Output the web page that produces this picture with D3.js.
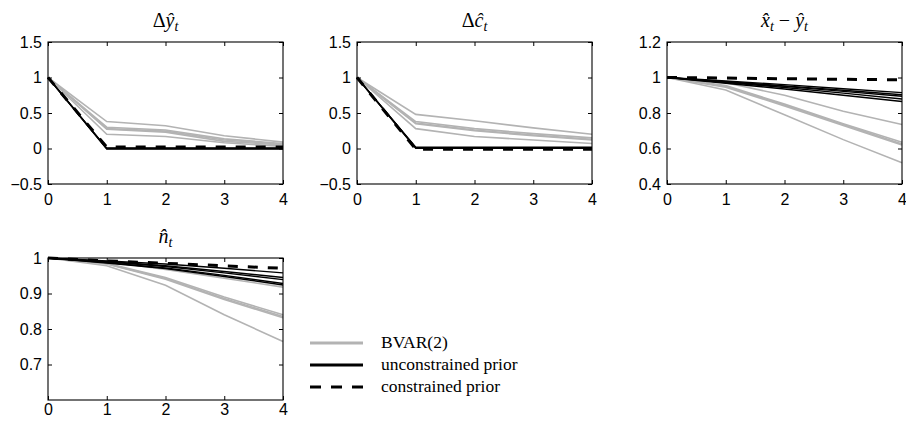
<!DOCTYPE html>
<html lang="en">
<head>
    <meta charset="utf-8">
    <script src="https://cdn.jsdelivr.net/npm/d3@7/dist/d3.min.js"></script>
    <style type="text/css">
        body { margin: 0; background: #fff; }
        .tick text { font-family: "Liberation Sans", Arial, sans-serif; font-size: 16px; fill: #000; }
        .title { font-family: "Liberation Serif", serif; font-size: 20px; }
        .legend text { font-family: "Liberation Serif", serif; font-size: 17.5px; }
    </style>
</head>
<body>
<script>
    // horizon (x axis)
    var horizon = [0, 1, 2, 3, 4];
    var xTicks = [0, 1, 2, 3, 4];

    // delta y-hat
    var bvarDy = [
        [1, 0.38, 0.32, 0.18, 0.09],
        [1, 0.30, 0.26, 0.135, 0.07],
        [1, 0.28, 0.245, 0.12, 0.06],
        [1, 0.27, 0.23, 0.10, 0.05],
        [1, 0.20, 0.17, 0.08, 0.03]
    ];
    var uncDy = [
        [1, 0, 0, 0, 0],
        [1, 0.006, 0.006, 0.006, 0.006],
        [1, -0.008, -0.008, -0.008, -0.008]
    ];
    var conDy = [1, 0.02, 0.02, 0.02, 0.02];

    // delta c-hat
    var bvarDc = [
        [1, 0.48, 0.39, 0.29, 0.20],
        [1, 0.38, 0.28, 0.21, 0.15],
        [1, 0.36, 0.26, 0.19, 0.13],
        [1, 0.35, 0.25, 0.18, 0.12],
        [1, 0.28, 0.17, 0.12, 0.07]
    ];
    var uncDc = [
        [1, 0.01, 0.01, 0.01, 0.01],
        [1, 0.018, 0.018, 0.018, 0.018],
        [1, 0.003, 0.003, 0.003, 0.003]
    ];
    var conDc = [1, -0.01, -0.01, -0.01, -0.01];

    // x-hat minus y-hat
    var bvarXy = [
        [1, 0.97, 0.90, 0.81, 0.735],
        [1, 0.955, 0.85, 0.74, 0.635],
        [1, 0.95, 0.845, 0.735, 0.625],
        [1, 0.945, 0.84, 0.73, 0.62],
        [1, 0.93, 0.79, 0.65, 0.52]
    ];
    var uncXy = [
        [1, 0.98, 0.96, 0.937, 0.915],
        [1, 0.977, 0.953, 0.928, 0.903],
        [1, 0.975, 0.95, 0.922, 0.894],
        [1, 0.972, 0.944, 0.912, 0.879],
        [1, 0.968, 0.935, 0.90, 0.865]
    ];
    var conXy = [1, 0.997, 0.993, 0.99, 0.987];

    // n-hat
    var bvarN = [
        [1, 0.99, 0.968, 0.943, 0.918],
        [1, 0.985, 0.945, 0.89, 0.84],
        [1, 0.984, 0.942, 0.886, 0.835],
        [1, 0.983, 0.94, 0.883, 0.832],
        [1, 0.978, 0.923, 0.84, 0.765]
    ];
    var uncN = [
        [1, 0.992, 0.983, 0.971, 0.958],
        [1, 0.99, 0.978, 0.962, 0.945],
        [1, 0.989, 0.976, 0.958, 0.939],
        [1, 0.987, 0.972, 0.951, 0.928],
        [1, 0.986, 0.97, 0.948, 0.924]
    ];
    var conN = [1, 0.992, 0.985, 0.978, 0.971];

    var legendLabels = ['BVAR(2)', 'unconstrained prior', 'constrained prior'];

    var gray = '#b3b3b3';

    var panels = [
        {left: 48, top: 42, xPad: 10, yDomain: [-0.5, 1.5], yTicks: [-0.5, 0, 0.5, 1, 1.5],
         title: [['Δ', 'n'], ['ŷ', 'i'], ['t', 's']], bvar: bvarDy, unc: uncDy, con: conDy},
        {left: 357, top: 42, xPad: 10, yDomain: [-0.5, 1.5], yTicks: [-0.5, 0, 0.5, 1, 1.5],
         title: [['Δ', 'n'], ['ĉ', 'i'], ['t', 's']], bvar: bvarDc, unc: uncDc, con: conDc},
        {left: 667, top: 42, xPad: 10, yDomain: [0.4, 1.2], yTicks: [0.4, 0.6, 0.8, 1, 1.2],
         title: [['x\u0302', 'i'], ['t', 's'], [' − ', 'n'], ['ŷ', 'i'], ['t', 's']], bvar: bvarXy, unc: uncXy, con: conXy},
        {left: 48, top: 258, xPad: 4, yDomain: [0.6, 1], yTicks: [0.7, 0.8, 0.9, 1],
         title: [['n\u0302', 'i'], ['t', 's']], bvar: bvarN, unc: uncN, con: conN}
    ];

    var pw = 235, ph = 142;

    var svg = d3.select('body')
            .append('svg')
            .attr('width', 906)
            .attr('height', 421);

    var fmt = d3.format('~g');

    panels.forEach(function (p) {
        var g = svg.append('g').attr('transform', 'translate(' + p.left + ',' + p.top + ')');

        var x = d3.scaleLinear().domain([0, 4]).range([0, pw]);
        var y = d3.scaleLinear().domain(p.yDomain).range([ph, 0]);

        var line = d3.line()
                .x(function (d, i) { return x(horizon[i]); })
                .y(function (d) { return y(d); });

        g.selectAll('path.bvar')
                .data(p.bvar)
                .enter()
                .append('path')
                .attr('class', 'bvar')
                .attr('d', line)
                .attr('fill', 'none')
                .attr('stroke', gray)
                .attr('stroke-width', 1.6);

        g.selectAll('path.unc')
                .data(p.unc)
                .enter()
                .append('path')
                .attr('class', 'unc')
                .attr('d', line)
                .attr('fill', 'none')
                .attr('stroke', '#000')
                .attr('stroke-width', 1.4);

        g.append('path')
                .attr('d', line(p.con))
                .attr('fill', 'none')
                .attr('stroke', '#000')
                .attr('stroke-width', 3)
                .attr('stroke-dasharray', '10,10');

        // axes, ticks inward on all four sides
        var axes = [
            d3.axisLeft(y).tickValues(p.yTicks).tickSize(-4).tickPadding(6).tickFormat(fmt),
            d3.axisBottom(x).tickValues(xTicks).tickSize(-4).tickPadding(p.xPad).tickFormat(fmt),
            d3.axisRight(y).tickValues(p.yTicks).tickSize(-4).tickFormat(''),
            d3.axisTop(x).tickValues(xTicks).tickSize(-4).tickFormat('')
        ];
        var shifts = ['0,0', '0,' + ph, pw + ',0', '0,0'];
        axes.forEach(function (a, i) {
            var ag = g.append('g').attr('transform', 'translate(' + shifts[i] + ')').call(a);
            ag.select('.domain').remove();
            ag.selectAll('.tick line').attr('stroke', '#000');
        });

        g.append('rect')
                .attr('width', pw)
                .attr('height', ph)
                .attr('fill', 'none')
                .attr('stroke', '#000')
                .attr('stroke-width', 1.1);

        var t = g.append('text')
                .attr('class', 'title')
                .attr('x', pw / 2)
                .attr('y', -15)
                .attr('text-anchor', 'middle');
        p.title.forEach(function (s, k) {
            var ts = t.append('tspan').text(s[0]);
            if (s[1] === 'i') ts.attr('font-style', 'italic');
            if (s[1] === 's') ts.attr('font-style', 'italic').attr('font-size', '14px').attr('dy', 4);
            if (s[1] !== 's' && k > 0 && p.title[k - 1][1] === 's') ts.attr('dy', -4);
        });
    });

    // legend
    var legend = svg.append('g').attr('class', 'legend');
    var ly = d3.scalePoint().domain(legendLabels).range([343, 387]);
    var styles = [
        {stroke: gray, dash: null},
        {stroke: '#000', dash: null},
        {stroke: '#000', dash: '11,10'}
    ];
    legendLabels.forEach(function (lab, i) {
        legend.append('line')
                .attr('x1', 310).attr('x2', 363)
                .attr('y1', ly(lab)).attr('y2', ly(lab))
                .attr('stroke', styles[i].stroke)
                .attr('stroke-width', 3)
                .attr('stroke-dasharray', styles[i].dash);
        legend.append('text')
                .attr('x', 381)
                .attr('y', ly(lab) + 5)
                .text(lab);
    });
</script>
</body>
</html>
